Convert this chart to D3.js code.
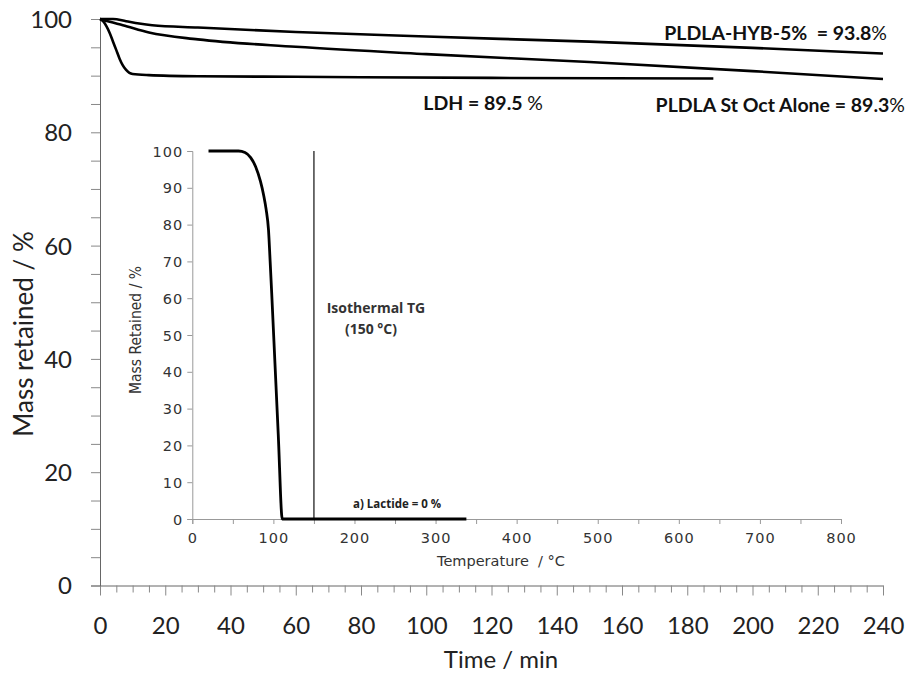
<!DOCTYPE html>
<html>
<head>
<meta charset="utf-8">
<script src="https://cdn.jsdelivr.net/npm/d3@7"></script>
<style>
  body { margin: 0; background: #fff; }
  svg { display: block; }
  .inset-txt { font-family: "DejaVu Sans", sans-serif; }
</style>
</head>
<body>
<div id="chart"></div>
<script>
// Main isothermal curves (time in min, mass retained in %)
const hybTime = [0, 4, 8, 12, 16, 30, 60, 100, 150, 200, 240];
const hybMass = [100, 100, 99.6, 99.2, 98.9, 98.5, 97.7, 96.9, 96.0, 94.9, 93.9];

const stOctTime = [0, 3, 7, 15, 30, 60, 100, 150, 200, 240];
const stOctMass = [100, 99.5, 98.9, 97.6, 96.4, 95.1, 93.8, 92.4, 90.8, 89.4];

const ldhTime = [0, 1, 2, 3, 4, 5, 6, 7, 8, 9, 10, 15, 30, 60, 120, 188];
const ldhMass = [100, 99.6, 98.7, 97.5, 96, 94.5, 93, 91.8, 91, 90.5, 90.3, 90.1, 89.9, 89.8, 89.6, 89.5];

// Inset: lactide TG (temperature in °C)
const lacTemp = [20, 40, 57, 65, 72, 78, 84, 88, 91, 94, 96, 98, 102, 106, 111, 150, 250, 338];
const lacMass = [100, 100, 100, 99.6, 98.2, 95.8, 91.8, 88, 84.2, 78.5, 70, 61, 42, 23, 0, 0, 0, 0];

const isoTemp = 150;

const mainXTicks = d3.range(0, 241, 5);
const mainYTicks = d3.range(0, 101, 5);
const insetXTicks = d3.range(0, 801, 50);
const insetYTicks = d3.range(0, 101, 10);

const width = 908;
const height = 679;

const svg = d3.select('#chart')
    .append('svg')
    .attr('width', width)
    .attr('height', height);

// Main scales
const x = d3.scaleLinear().domain([0, 240]).range([100, 883]);
const y = d3.scaleLinear().domain([0, 100]).range([585.5, 19]);

const mainFont = 'Lato, "Open Sans", sans-serif';

// Main axes
const xAxis = svg.append('g')
    .attr('transform', `translate(0,${y(0)})`)
    .call(d3.axisBottom(x).tickValues(mainXTicks).tickSize(9).tickFormat(d => d % 20 === 0 ? d : ''))
    .call(g => g.select('.domain').attr('stroke', '#666'));
xAxis.selectAll('.tick line').attr('stroke', '#888')
    .attr('y2', d => d % 20 === 0 ? 10 : 7);
xAxis.selectAll('.tick text')
    .attr('font-family', mainFont).attr('font-size', 24).attr('fill', '#222')
    .attr('dy', 0).attr('y', 48);

const yAxis = svg.append('g')
    .attr('transform', `translate(${x(0)},0)`)
    .call(d3.axisLeft(y).tickValues(mainYTicks).tickSize(9).tickFormat(d => d % 20 === 0 ? d : ''))
    .call(g => g.select('.domain').attr('stroke', '#666'));
yAxis.selectAll('.tick line').attr('stroke', '#888');
yAxis.selectAll('.tick text')
    .attr('font-family', mainFont).attr('font-size', 24).attr('fill', '#222')
    .attr('x', -28).attr('dy', '0.35em');

svg.append('text')
    .attr('x', 501).attr('y', 668)
    .attr('text-anchor', 'middle')
    .attr('font-family', mainFont).attr('font-size', 24).attr('fill', '#222')
    .text('Time / min');

svg.append('text')
    .attr('transform', 'translate(33,334) rotate(-90)')
    .attr('text-anchor', 'middle')
    .attr('font-family', mainFont).attr('font-size', 26).attr('fill', '#222')
    .text('Mass retained / %');

// Main curves
const mainLine = d3.line()
    .x(d => x(d[0]))
    .y(d => y(d[1]))
    .curve(d3.curveMonotoneX);

[[hybTime, hybMass], [stOctTime, stOctMass], [ldhTime, ldhMass]].forEach(([t, m]) => {
    svg.append('path')
        .datum(d3.zip(t, m))
        .attr('fill', 'none')
        .attr('stroke', '#000')
        .attr('stroke-width', 2.6)
        .attr('d', mainLine);
});

// Curve labels
function label(xp, yp, boldText, tail, size) {
    const t = svg.append('text')
        .attr('x', xp).attr('y', yp)
        .attr('text-anchor', 'end')
        .attr('font-family', 'Lato, sans-serif').attr('font-size', size).attr('fill', '#111');
    t.append('tspan').attr('font-weight', 'bold').text(boldText);
    t.append('tspan').text(tail);
}
label(887, 40, 'PLDLA-HYB-5%\u00a0\u00a0= 93.8', '%', 19.5);
label(905, 112, 'PLDLA St Oct Alone = 89.3', '%', 19.5);
label(543, 110, 'LDH = 89.5 ', '%', 19.5);

// Inset
const ix = d3.scaleLinear().domain([0, 800]).range([192.3, 841]);
const iy = d3.scaleLinear().domain([0, 100]).range([519, 151]);

const ixAxis = svg.append('g')
    .attr('transform', `translate(0,${iy(0)})`)
    .call(d3.axisBottom(ix).tickValues(insetXTicks).tickSize(5).tickFormat(d => d % 100 === 0 ? d : ''))
    .call(g => g.select('.domain').attr('stroke', '#999'));
ixAxis.attr('font-family', null);
ixAxis.selectAll('.tick line').attr('stroke', '#999');
ixAxis.selectAll('.tick text')
    .attr('class', 'inset-txt')
    .attr('font-size', 14.5).attr('fill', '#333')
    .attr('letter-spacing', 1).attr('dy', 0).attr('y', 24);

const iyAxis = svg.append('g')
    .attr('transform', `translate(${ix(0)},0)`)
    .call(d3.axisLeft(iy).tickValues(insetYTicks).tickSize(5))
    .call(g => g.select('.domain').attr('stroke', '#999'));
iyAxis.attr('font-family', null);
iyAxis.selectAll('.tick line').attr('stroke', '#999');
iyAxis.selectAll('.tick text')
    .attr('class', 'inset-txt')
    .attr('font-size', 14.5).attr('fill', '#333')
    .attr('letter-spacing', 1).attr('x', -9).attr('dy', '0.35em');

svg.append('text')
    .attr('class', 'inset-txt')
    .attr('x', 501).attr('y', 566)
    .attr('text-anchor', 'middle')
    .attr('font-size', 14.5).attr('fill', '#333')
    .text('Temperature\u00a0\u00a0/ °C');

svg.append('text')
    .attr('transform', 'translate(141,330) rotate(-90)')
    .attr('text-anchor', 'middle')
    .attr('font-family', '"DejaVu Sans Condensed", "DejaVu Sans", sans-serif')
    .attr('font-size', 15.5).attr('fill', '#333')
    .text('Mass Retained / %');

// Isothermal marker
svg.append('line')
    .attr('x1', ix(isoTemp)).attr('x2', ix(isoTemp))
    .attr('y1', iy(100)).attr('y2', iy(0))
    .attr('stroke', '#222').attr('stroke-width', 1.3);

const insetLine = d3.line()
    .x(d => ix(d[0]))
    .y(d => iy(d[1]))
    .curve(d3.curveMonotoneX);

svg.append('path')
    .datum(d3.zip(lacTemp, lacMass))
    .attr('fill', 'none')
    .attr('stroke', '#000')
    .attr('stroke-width', 2.8)
    .attr('d', insetLine);

svg.append('text')
    .attr('x', 376).attr('y', 313)
    .attr('font-family', '"Open Sans", sans-serif').attr('font-size', 14)
    .attr('font-weight', 'bold').attr('fill', '#333')
    .attr('text-anchor', 'middle')
    .text('Isothermal TG');
svg.append('text')
    .attr('x', 371).attr('y', 334)
    .attr('font-family', '"Open Sans", sans-serif').attr('font-size', 14)
    .attr('font-weight', 'bold').attr('fill', '#333')
    .attr('text-anchor', 'middle')
    .text('(150 °C)');

svg.append('text')
    .attr('x', 353).attr('y', 508)
    .attr('font-family', '"Open Sans", sans-serif').attr('font-size', 11.5)
    .attr('font-weight', 'bold').attr('fill', '#222')
    .text('a) Lactide = 0 %');
</script>
</body>
</html>
